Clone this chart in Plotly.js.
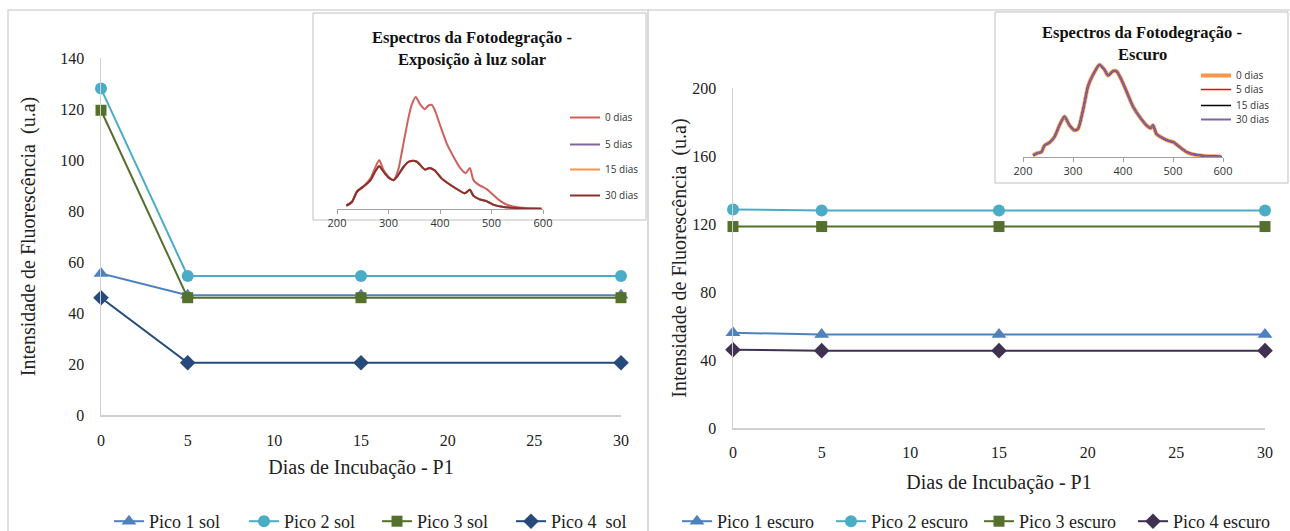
<!DOCTYPE html>
<html><head><meta charset="utf-8">
<script src="https://cdn.plot.ly/plotly-3.0.1.min.js"></script>
<style>html,body{margin:0;padding:0;background:#fff}#chart{width:1290px;height:531px}</style>
</head><body><div id="chart"></div>
<script>
// ---- main charts data ----
const days = [0, 5, 15, 30];
const solPico1 = [55.5, 47, 47, 47];
const solPico2 = [128, 54.5, 54.5, 54.5];
const solPico3 = [119.5, 46, 46, 46];
const solPico4 = [46, 20.5, 20.5, 20.5];
const escPico1 = [56, 55, 55, 55];
const escPico2 = [128.5, 128, 128, 128];
const escPico3 = [118.5, 118.5, 118.5, 118.5];
const escPico4 = [46, 45.5, 45.5, 45.5];
const solNames = ['Pico 1 sol', 'Pico 2 sol', 'Pico 3 sol', 'Pico 4  sol'];
const escNames = ['Pico 1 escuro', 'Pico 2 escuro', 'Pico 3 escuro', 'Pico 4 escuro'];

// ---- inset spectra data ----
const wlSol0 = [218,229,239,252,265,274,282,290,300,310,319,329,339,345,353,361,370,377,384,390,400,413,426,439,450,458,465,477,490,500,513,526,542,561,581,597];
const sol0dias = [3.8,8,20,26,35,47,56,45,37,33,45,75,105,119,128,120,114,118,119,113,96,75,60,47,41,47,33,27,23,18,11,6,3,1.5,0.8,0.4];
const wlSolD = [218,229,239,252,265,274,282,290,300,310,319,329,339,345,355,371,380,390,403,419,435,448,458,465,477,490,503,523,548,574,597];
const sol5dias = [3.8,8,20,26,33,43,49,43,36,33,39,48,54,55,54,45,47,44,35,28,22,18,22,15,11,9,5,2.3,1.1,0.4,0.2];
const sol15dias = [3.8,8,20,26,33,43,49,43,36,33,39,48,54,55,54,45,47,44,35,28,22,18,22,15,11,9,5,2.3,1.1,0.4,0.2];
const sol30dias = [3.8,8,20,26,33,43,49,43,36,33,39,48,54,55,54,45,47,44,35,28,22,18,22,15,11,9,5,2.3,1.1,0.4,0.2];
const wlEsc = [220,230,237,243,253,263,273,283,293,303,310,320,330,340,353,363,370,380,387,397,407,420,433,447,455,460,467,480,493,500,513,527,540,560,580,597];
const esc0dias = [2.3,5.6,7,16,20,28,44,56,44,37,39,65,98,114,128,121,113,119,119,107,91,70,56,44,40,44,32,26,22,21,14,7,3.7,1.9,0.9,0.5];
const esc5dias = [2.3,5.6,7,16,20,28,44,56,44,37,39,65,98,114,128,121,113,119,119,107,91,70,56,44,40,44,32,26,22,21,14,7,3.7,1.9,0.9,0.5];
const esc15dias = [2.3,5.6,7,16,20,28,44,56,44,37,39,65,98,114,128,121,113,119,119,107,91,70,56,44,40,44,32,26,22,21,14,7,3.7,1.9,0.9,0.5];
const esc30dias = [2.3,5.6,7,16,20,28,44,56,44,37,39,65,98,114,128,121,113,119,119,107,91,70,56,44,40,44,32,26,22,21,14,7,3.7,1.9,0.9,0.5];
const diasNames = ['0 dias', '5 dias', '15 dias', '30 dias'];

// ---- layout helpers ----
const W = 1290, H = 531;
const px = x => x / W, py = y => 1 - y / H;
const SERIF = 'Liberation Serif';
const SANS = 'Open Sans';

const c1 = '#4F81BD', c2 = '#4BACC6', c3 = '#55702C', c4s = '#254A7B', c4e = '#403152';
const markers = [
  {symbol: 'triangle-up', size: 13, color: c1},
  {symbol: 'circle', size: 12, color: c2},
  {symbol: 'square', size: 11, color: c3},
  {symbol: 'diamond', size: 12, color: c4s}
];

function mainTrace(y, name, i, xa, ya, leg, col) {
  const m = Object.assign({}, markers[i]);
  if (col) m.color = col;
  return {x: days, y: y, name: name, type: 'scatter', mode: 'lines+markers',
    xaxis: xa, yaxis: ya, legend: leg, cliponaxis: false, showlegend: true,
    line: {color: m.color, width: 2}, marker: m};
}

const traces = [
  mainTrace(solPico1, solNames[0], 0, 'x', 'y', 'legend'),
  mainTrace(solPico2, solNames[1], 1, 'x', 'y', 'legend2'),
  mainTrace(solPico3, solNames[2], 2, 'x', 'y', 'legend3'),
  mainTrace(solPico4, solNames[3], 3, 'x', 'y', 'legend4'),
  mainTrace(escPico1, escNames[0], 0, 'x2', 'y2', 'legend5'),
  mainTrace(escPico2, escNames[1], 1, 'x2', 'y2', 'legend6'),
  mainTrace(escPico3, escNames[2], 2, 'x2', 'y2', 'legend7'),
  mainTrace(escPico4, escNames[3], 3, 'x2', 'y2', 'legend8', c4e)
];

function specTrace(x, y, name, color, width, xa, ya, leg) {
  return {x: x, y: y, name: name, type: 'scatter', mode: 'lines',
    xaxis: xa, yaxis: ya, legend: leg, showlegend: true,
    line: {color: color, width: width, shape: 'spline', smoothing: 0.6}};
}
traces.push(
  specTrace(wlSol0, sol0dias, diasNames[0], '#D0605C', 2, 'x3', 'y3', 'legend9'),
  specTrace(wlSolD, sol5dias, diasNames[1], '#8064A2', 2, 'x3', 'y3', 'legend10'),
  specTrace(wlSolD, sol15dias, diasNames[2], '#F79646', 2, 'x3', 'y3', 'legend11'),
  specTrace(wlSolD, sol30dias, diasNames[3], '#8B3030', 2, 'x3', 'y3', 'legend12'),
  specTrace(wlEsc, esc0dias, diasNames[0], '#F79646', 4, 'x4', 'y4', 'legend13'),
  specTrace(wlEsc, esc5dias, diasNames[1], '#FF0000', 1.5, 'x4', 'y4', 'legend14'),
  specTrace(wlEsc, esc15dias, diasNames[2], '#000000', 1.5, 'x4', 'y4', 'legend15'),
  specTrace(wlEsc, esc30dias, diasNames[3], '#8064A2', 2, 'x4', 'y4', 'legend16')
);

const axLine = '#D0D0D0';
const mainX = (dom, anchor, stand, tstand) => ({domain: dom, anchor: anchor, range: [0, 30], dtick: 5,
  automargin: false, showline: true, linecolor: axLine, linewidth: 1.5, showgrid: false, zeroline: false, ticks: '',
  ticklabelstandoff: stand, tickfont: {family: SERIF, size: 16, color: '#222'},
  title: {text: 'Dias de Incubação - P1', font: {family: SERIF, size: 20, color: '#222'}, standoff: tstand}});
const mainY = (dom, anchor, rng, dt, stand) => ({domain: dom, anchor: anchor, range: rng, dtick: dt,
  automargin: false, showline: true, linecolor: axLine, linewidth: 1.5, showgrid: false, zeroline: false, ticks: '',
  ticklabelstandoff: 12, tickfont: {family: SERIF, size: 16, color: '#222'},
  title: {text: 'Intensidade de Fluorescência  (u.a)', font: {family: SERIF, size: 20, color: '#222'}, standoff: stand}});
const insetX = (dom, anchor) => ({domain: dom, anchor: anchor, range: [200, 600], dtick: 100,
  automargin: false, showline: true, linecolor: '#A0A0A0', linewidth: 1, showgrid: false, zeroline: false,
  ticks: 'outside', ticklen: 4, tickcolor: '#A0A0A0', tickfont: {family: SANS, size: 11, color: '#333'}});
const insetY = (dom, anchor) => ({domain: dom, anchor: anchor, range: [0, 140], visible: false, automargin: false});

const legBase = (xp, yp, font) => ({x: px(xp), y: py(yp), xanchor: 'left', yanchor: 'top',
  font: font, bgcolor: 'rgba(0,0,0,0)', itemwidth: 30, borderwidth: 0});
const fMain = {family: SERIF, size: 18, color: '#222'};
const fIn = {family: SANS, size: 10, color: '#333'};
const fTitle = {family: SERIF, size: 16.5, color: '#111'};
const ann = (xp, yp, text) => ({xref: 'paper', yref: 'paper', x: px(xp), y: py(yp), xanchor: 'center', yanchor: 'middle',
  text: text, showarrow: false, font: fTitle});

const layout = {
  width: W, height: H, margin: {l: 0, r: 0, t: 0, b: 0, autoexpand: false},
  showlegend: true,
  paper_bgcolor: '#fff', plot_bgcolor: 'rgba(0,0,0,0)',
  xaxis: mainX([px(101), px(621)], 'y', 10, 12),
  yaxis: mainY([py(415), py(58)], 'x', [0, 140], 20, 19),
  xaxis2: mainX([px(733), px(1265)], 'y2', 9, 15),
  yaxis2: mainY([py(428), py(88)], 'x2', [0, 200], 40, 0),
  xaxis3: insetX([px(337), px(543)], 'y3'),
  yaxis3: insetY([py(209), py(86.5)], 'x3'),
  xaxis4: insetX([px(1023), px(1223)], 'y4'),
  yaxis4: insetY([py(157), py(56)], 'x4'),
  legend: legBase(109, 503, fMain),
  legend2: legBase(244, 503, fMain),
  legend3: legBase(377, 503, fMain),
  legend4: legBase(511, 503, fMain),
  legend5: legBase(677, 503, fMain),
  legend6: legBase(831, 503, fMain),
  legend7: legBase(979, 503, fMain),
  legend8: legBase(1133, 503, fMain),
  legend9: legBase(565, 103, fIn),
  legend10: legBase(565, 130, fIn),
  legend11: legBase(565, 155, fIn),
  legend12: legBase(565, 181, fIn),
  legend13: legBase(1196, 61, fIn),
  legend14: legBase(1196, 75, fIn),
  legend15: legBase(1196, 91, fIn),
  legend16: legBase(1196, 105, fIn),
  shapes: [
    {type: 'rect', xref: 'paper', yref: 'paper', x0: px(8), x1: px(648), y0: py(535), y1: py(10), line: {color: '#D6D6D6', width: 1.5}, layer: 'below'},
    {type: 'rect', xref: 'paper', yref: 'paper', x0: px(648), x1: px(1296), y0: py(535), y1: py(10), line: {color: '#D6D6D6', width: 1.5}, layer: 'below'},
    {type: 'rect', xref: 'paper', yref: 'paper', x0: px(313), x1: px(646), y0: py(220), y1: py(13), line: {color: '#BFBFBF', width: 1}, fillcolor: '#fff', layer: 'below'},
    {type: 'rect', xref: 'paper', yref: 'paper', x0: px(995), x1: px(1288), y0: py(183), y1: py(12), line: {color: '#BFBFBF', width: 1}, fillcolor: '#fff', layer: 'below'}
  ],
  annotations: [
    ann(472, 37, '<b>Espectros da Fotodegração -</b>'),
    ann(472, 60, '<b>Exposição à luz solar</b>'),
    ann(1142, 33, '<b>Espectros da Fotodegração -</b>'),
    ann(1142, 55, '<b>Escuro</b>')
  ]
};

Plotly.newPlot('chart', traces, layout, {displayModeBar: false, staticPlot: true});
</script></body></html>
